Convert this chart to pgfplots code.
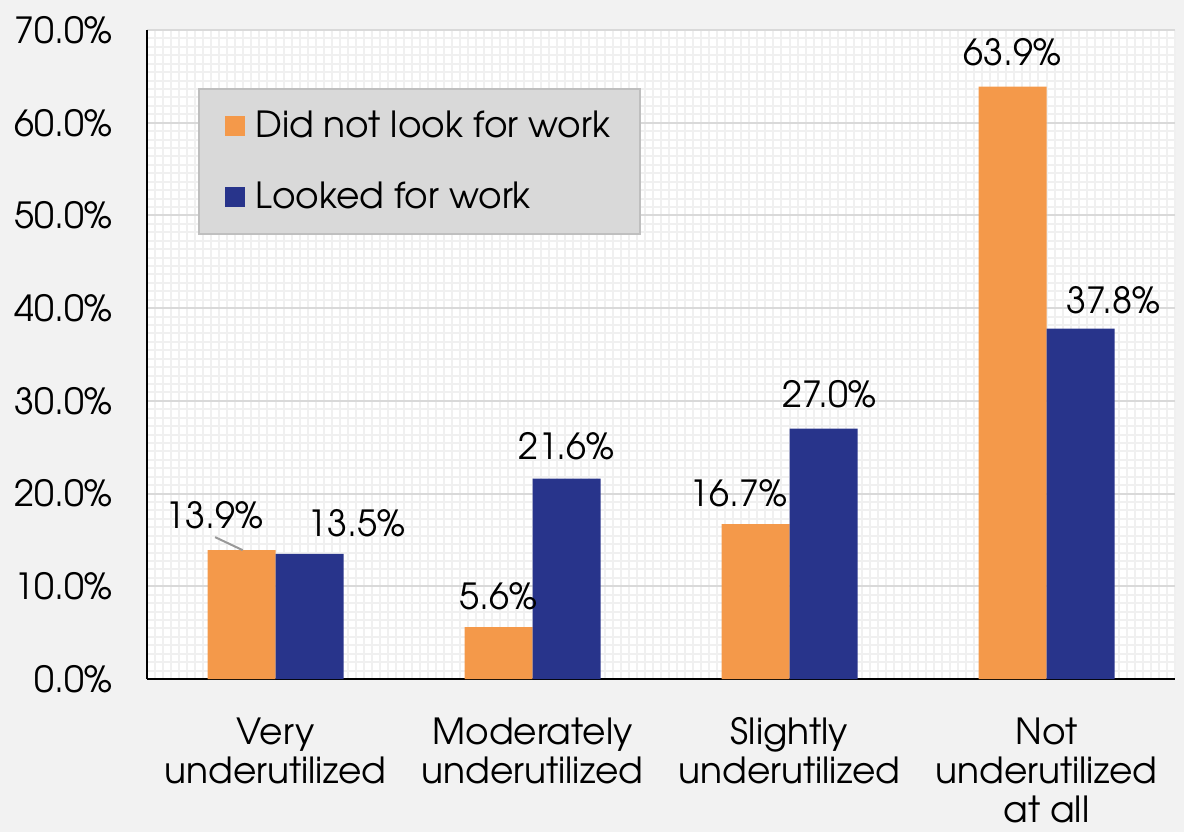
\documentclass[border=0pt]{standalone}
\usepackage{fontspec}
\setmainfont{texgyreadventor-regular.otf}
\usepackage{pgfplots}
\usepackage{pgfplotstable}
\pgfplotsset{compat=1.18}
\usetikzlibrary{backgrounds}

\definecolor{bgc}{HTML}{F2F2F2}
\definecolor{orangebar}{HTML}{F4994A}
\definecolor{navybar}{HTML}{28348B}
\definecolor{legfill}{HTML}{D9D9D9}
\definecolor{legdraw}{HTML}{BFBFBF}

% x, share in %, label shift (pt)
\pgfplotstableread{
x y dx dy
0 13.9 -13.5 7
1 5.6 0 5
2 16.7 -8.5 5
3 63.9 0 7
}\didnot

\pgfplotstableread{
x y dx dy
0 13.5 23.5 5
1 21.6 0 6
2 27.0 3 7
3 37.8 16.5 4
}\looked

\begin{document}
\begin{tikzpicture}[font=\fontsize{18}{19.5}\selectfont]
\begin{axis}[
    scale only axis,
    width=514pt,
    height=324.5pt,
    ybar=0pt,
    bar width=34pt,
    xmin=-0.5, xmax=3.5,
    ymin=0, ymax=70,
    xtick=data,
    xticklabels={{Very\\underutilized},{Moderately\\underutilized},{Slightly\\underutilized},{Not\\underutilized\\at all}},
    xticklabel style={align=center, inner sep=0pt, yshift=-19pt},
    ytick={0,10,...,70},
    yticklabel={\pgfmathprintnumber[fixed,fixed zerofill,precision=1]{\tick}\%},
    yticklabel style={inner sep=0pt, xshift=-17pt},
    /pgf/number format/assume math mode=true,
    minor xtick={-0.5,-0.46875,...,3.5},
    minor y tick num=10,
    major tick length=0pt,
    minor tick length=0pt,
    ymajorgrids,
    xminorgrids, yminorgrids,
    major grid style={black!15, line width=1pt},
    minor grid style={black!6, line width=1pt},
    axis x line*=bottom,
    axis y line*=left,
    axis line style={black, line width=1pt, -},
    axis background/.style={fill=white},
    clip=false,
    enlarge x limits=false,
    legend style={at={(0.05,0.911)}, anchor=north west,
        fill=legfill, draw=legdraw, line width=1pt,
        inner xsep=13pt, inner ysep=9pt, row sep=17pt,
        cells={anchor=west},
        /tikz/every odd column/.append style={column sep=3pt}},
    legend image code/.code={\fill[#1] (0pt,-5pt) rectangle (10pt,5pt);},
    nodes near coords={\pgfmathprintnumber[fixed,fixed zerofill,precision=1]{\pgfplotspointmeta}\%},
    visualization depends on={\thisrow{dx} \as \dx},
    visualization depends on={\thisrow{dy} \as \dy},
    every node near coord/.append style={black, xshift=\dx pt, yshift=\dy pt},
]
\addplot[fill=orangebar, draw=none] table[x=x, y=y] {\didnot};
\addplot[fill=navybar, draw=none] table[x=x, y=y] {\looked};
\legend{Did not look for work, Looked for work}
\draw[black!40, line width=1pt] (axis cs:-0.235,15.3) -- (axis cs:-0.128,13.9);
\end{axis}
\begin{scope}[on background layer]
\fill[bgc] ([xshift=-73.5pt,yshift=-76.5pt]current axis.south west) rectangle ([xshift=4.5pt,yshift=15pt]current axis.north east);
\end{scope}
\pgfresetboundingbox
\path ([xshift=-73.5pt,yshift=-76.5pt]current axis.south west) rectangle ([xshift=4.5pt,yshift=15pt]current axis.north east);
\end{tikzpicture}
\end{document}
